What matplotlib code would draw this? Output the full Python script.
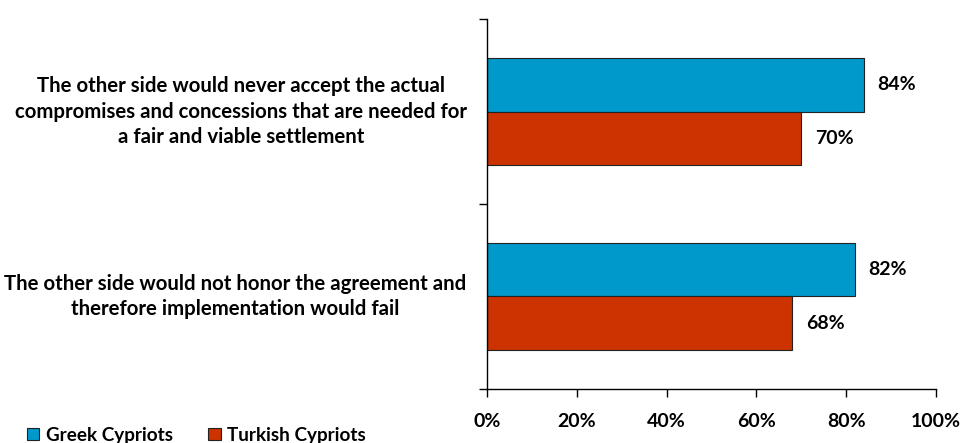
import matplotlib.pyplot as plt
import numpy as np

categories = [
    "The other side would not honor the agreement and\ntherefore implementation would fail",
    "The other side would never accept the actual\ncompromises and concessions that are needed for\na fair and viable settlement",
]
greek = [82, 84]
turkish = [68, 70]
series_names = ["Greek Cypriots", "Turkish Cypriots"]
colors = ["#0099CC", "#CC3300"]
xticks = [0, 20, 40, 60, 80, 100]

plt.rcParams["font.family"] = ["Lato", "DejaVu Sans"]
plt.rcParams["font.weight"] = "bold"

fig = plt.figure(figsize=(9.71, 4.43), dpi=100)
ax = fig.add_axes([0.5015, 0.122, 0.4625, 0.835])

y = np.arange(len(categories))
h = 0.287
b1 = ax.barh(y + h / 2, greek, height=h, color=colors[0], edgecolor="#222222", linewidth=0.8, label=series_names[0])
b2 = ax.barh(y - h / 2, turkish, height=h, color=colors[1], edgecolor="#222222", linewidth=0.8, label=series_names[1])

for bars, vals in [(b1, greek), (b2, turkish)]:
    for bar, v in zip(bars, vals):
        ax.text(v + 3, bar.get_y() + bar.get_height() / 2, f"{v}%",
                va="center", ha="left", fontsize=14, fontweight="bold")

ax.set_xlim(0, 100)
ax.set_ylim(-0.5, len(categories) - 0.5)
ax.set_xticks(xticks)
ax.set_xticklabels([f"{t}%" for t in xticks], fontsize=14, fontweight="bold")
ax.tick_params(axis="x", direction="out", length=6, width=1, pad=11)

ax.set_yticks(y)
ax.set_yticklabels([])
ax.tick_params(axis="y", which="major", length=0)
ax.set_yticks(np.arange(-0.5, len(categories), 1.0), minor=True)
ax.tick_params(axis="y", which="minor", direction="out", length=6, width=1)

for yi, label in zip(y, categories):
    ax.text(-0.045, yi, label, transform=ax.get_yaxis_transform(),
            ha="right", va="center", multialignment="center",
            fontsize=14.7, fontweight="bold", linespacing=1.35)

for s in ["top", "right"]:
    ax.spines[s].set_visible(False)
for s in ["left", "bottom"]:
    ax.spines[s].set_color("black")
    ax.spines[s].set_linewidth(1)

fig.legend(handles=[b1, b2], labels=series_names, loc="lower left",
           bbox_to_anchor=(0.01, -0.04), ncol=2, frameon=False,
           handlelength=0.65, handleheight=0.65, handletextpad=0.35,
           columnspacing=1.9, prop={"weight": "bold", "size": 13.6})

fig.savefig("out.png", dpi=100)
